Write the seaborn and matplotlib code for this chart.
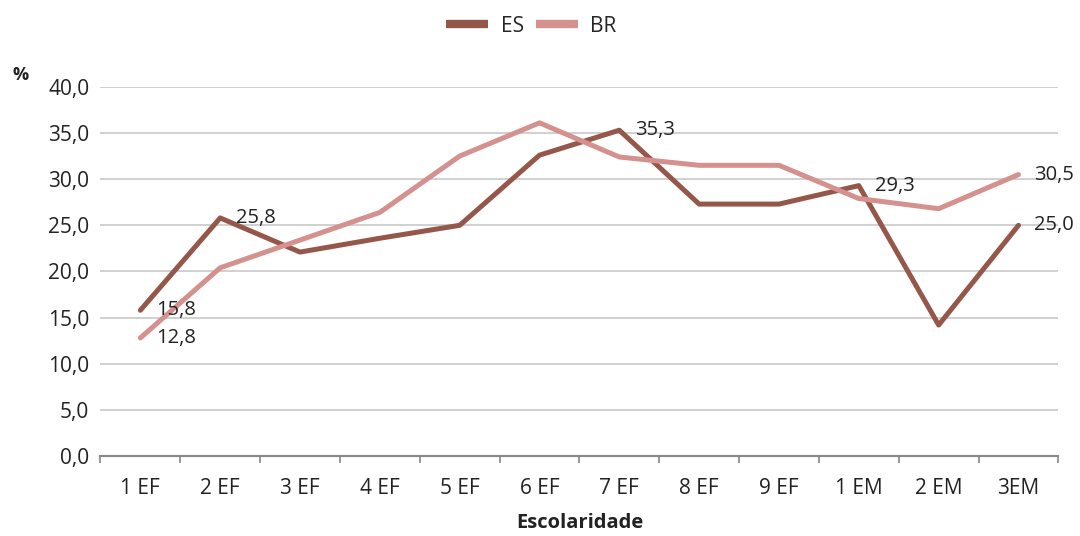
import numpy as np
import pandas as pd
import matplotlib
matplotlib.use("Agg")
import matplotlib.pyplot as plt
import seaborn as sns

# dados
series = ["1 EF", "2 EF", "3 EF", "4 EF", "5 EF", "6 EF", "7 EF", "8 EF", "9 EF", "1 EM", "2 EM", "3EM"]
es_vals = [15.8, 25.8, 22.1, 23.6, 25.0, 32.6, 35.3, 27.3, 27.3, 29.3, 14.2, 25.0]
br_vals = [12.8, 20.4, 23.4, 26.4, 32.5, 36.1, 32.4, 31.5, 31.5, 27.9, 26.8, 30.5]
# pontos com rótulo
es_labels = [0, 1, 6, 9, 11]
br_labels = [0, 11]

sns.set_theme(style="white")
plt.rcParams['font.family'] = ['Open Sans', 'DejaVu Sans']

df = pd.DataFrame({
    "Escolaridade": series * 2,
    "valor": es_vals + br_vals,
    "grupo": ["ES"] * len(series) + ["BR"] * len(series),
})
df["pos"] = list(range(len(series))) * 2

cores = {"ES": "#94574a", "BR": "#d4918e"}

fig, ax = plt.subplots(figsize=(10.8, 5.36), dpi=100)
fig.subplots_adjust(left=0.093, right=0.98, top=0.838, bottom=0.149)

sns.lineplot(data=df, x="pos", y="valor", hue="grupo", palette=cores,
             linewidth=3.6, ax=ax, sort=False)

for i in es_labels:
    ax.annotate(f"{es_vals[i]:.1f}".replace(".", ","), (i, es_vals[i]),
                xytext=(16, 0), textcoords="offset pixels",
                ha="left", va="center", fontsize=14.5, color="#222222")
for i in br_labels:
    ax.annotate(f"{br_vals[i]:.1f}".replace(".", ","), (i, br_vals[i]),
                xytext=(16, 0), textcoords="offset pixels",
                ha="left", va="center", fontsize=14.5, color="#222222")

ax.set_xlim(-0.5, len(series) - 0.5)
ax.set_ylim(0, 40)
ax.set_yticks(np.arange(0, 41, 5))
ax.set_yticklabels([f"{v:.1f}".replace(".", ",") for v in np.arange(0, 41, 5)])
ax.set_xticks(range(len(series)))
ax.set_xticklabels(series)
ax.set_xticks(np.arange(-0.5, len(series)), minor=True)
ax.tick_params(axis="x", which="major", length=0, pad=16, labelsize=15, colors="#222222")
ax.tick_params(axis="x", which="minor", length=5, width=1.2, color="#888888", bottom=True)
ax.tick_params(axis="y", length=0, pad=8, labelsize=15, colors="#222222")

ax.grid(axis="y", color="#c8c8c8", linewidth=1.2)
ax.set_axisbelow(True)
for s in ["top", "right", "left"]:
    ax.spines[s].set_visible(False)
ax.spines["bottom"].set_color("#888888")
ax.spines["bottom"].set_linewidth(1.5)

ax.set_xlabel("Escolaridade", fontsize=14.5, fontweight="bold", labelpad=10, color="#222222")
ax.set_ylabel("")
fig.text(0.012, 0.85, "%", fontsize=13, fontweight="bold", color="#222222")

sns.move_legend(ax, "lower center", bbox_to_anchor=(0.45, 1.085), ncol=2,
                frameon=False, title=None, fontsize=15, handlelength=2.0,
                columnspacing=0.6, handletextpad=0.6)
for line in ax.get_legend().get_lines():
    line.set_linewidth(6)
    line.set_solid_capstyle("butt")

plt.savefig("out.png", dpi=100)
